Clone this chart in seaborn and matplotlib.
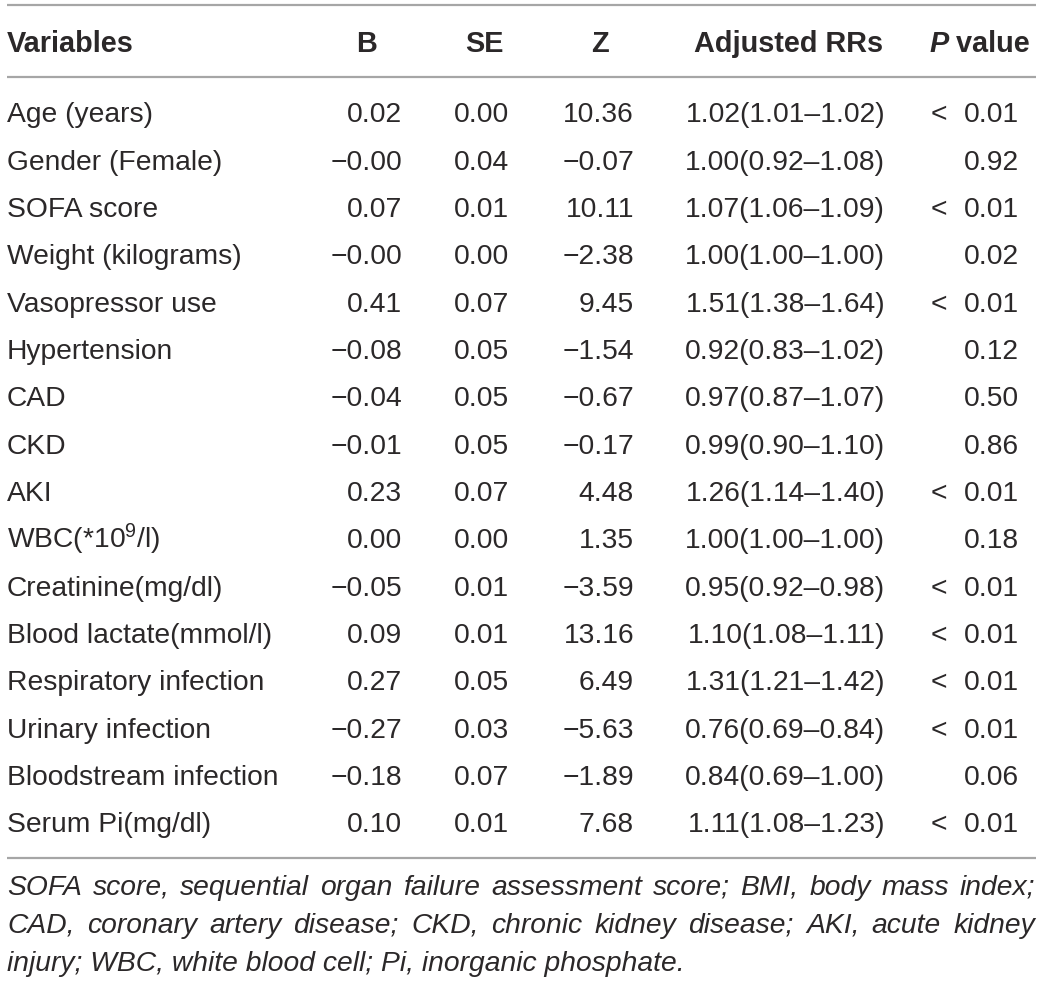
import seaborn as sns
import matplotlib.pyplot as plt

# table content
variables = ["Age (years)", "Gender (Female)", "SOFA score", "Weight (kilograms)",
             "Vasopressor use", "Hypertension", "CAD", "CKD", "AKI",
             "WBC(*10$^{9}$/l)", "Creatinine(mg/dl)", "Blood lactate(mmol/l)",
             "Respiratory infection", "Urinary infection", "Bloodstream infection",
             "Serum Pi(mg/dl)"]
b_vals = ["0.02", "\u22120.00", "0.07", "\u22120.00", "0.41", "\u22120.08", "\u22120.04",
          "\u22120.01", "0.23", "0.00", "\u22120.05", "0.09", "0.27", "\u22120.27",
          "\u22120.18", "0.10"]
se_vals = ["0.00", "0.04", "0.01", "0.00", "0.07", "0.05", "0.05", "0.05", "0.07",
           "0.00", "0.01", "0.01", "0.05", "0.03", "0.07", "0.01"]
z_vals = ["10.36", "\u22120.07", "10.11", "\u22122.38", "9.45", "\u22121.54", "\u22120.67",
          "\u22120.17", "4.48", "1.35", "\u22123.59", "13.16", "6.49", "\u22125.63",
          "\u22121.89", "7.68"]
rr_vals = ["1.02(1.01\u20131.02)", "1.00(0.92\u20131.08)", "1.07(1.06\u20131.09)",
           "1.00(1.00\u20131.00)", "1.51(1.38\u20131.64)", "0.92(0.83\u20131.02)",
           "0.97(0.87\u20131.07)", "0.99(0.90\u20131.10)", "1.26(1.14\u20131.40)",
           "1.00(1.00\u20131.00)", "0.95(0.92\u20130.98)", "1.10(1.08\u20131.11)",
           "1.31(1.21\u20131.42)", "0.76(0.69\u20130.84)", "0.84(0.69\u20131.00)",
           "1.11(1.08\u20131.23)"]
p_vals = ["< 0.01", "0.92", "< 0.01", "0.02", "< 0.01", "0.12", "0.50", "0.86",
          "< 0.01", "0.18", "< 0.01", "< 0.01", "< 0.01", "< 0.01", "0.06", "< 0.01"]
headers = ["Variables", "B", "SE", "Z", "Adjusted RRs"]
footnote = ["SOFA score, sequential organ failure assessment score; BMI, body mass index;",
            "CAD, coronary artery disease; CKD, chronic kidney disease; AKI, acute kidney",
            "injury; WBC, white blood cell; Pi, inorganic phosphate."]

sns.set_theme(style="white")
plt.rcParams['font.family'] = ['Liberation Sans', 'DejaVu Sans']
plt.rcParams['mathtext.fontset'] = 'custom'
plt.rcParams['mathtext.rm'] = 'Liberation Sans'
plt.rcParams['mathtext.it'] = 'Liberation Sans:italic'

W, H = 1043, 981
fig = plt.figure(figsize=(W / 100, H / 100), dpi=100)
ax = fig.add_axes([0, 0, 1, 1])
ax.set_xlim(0, W)
ax.set_ylim(H, 0)
ax.axis('off')

fs = 20.3     # body size
hfs = 20.8    # header size
txt = '#2b2829'
rule = '#a6a6a6'

# rules
for y in [5, 77, 858]:
    ax.plot([7, 1036], [y, y], color=rule, lw=1.6, solid_capstyle='butt')

# header
hy = 52
ax.text(7, hy, headers[0], fontsize=hfs, fontweight='bold', color=txt, ha='left', va='baseline')
ax.text(367, hy, headers[1], fontsize=hfs, fontweight='bold', color=txt, ha='center', va='baseline')
ax.text(484, hy, headers[2], fontsize=hfs, fontweight='bold', color=txt, ha='center', va='baseline')
ax.text(600, hy, headers[3], fontsize=hfs, fontweight='bold', color=txt, ha='center', va='baseline')
ax.text(788, hy, headers[4], fontsize=hfs, fontweight='bold', color=txt, ha='center', va='baseline')
val = ax.text(1030, hy, " value", fontsize=hfs, fontweight='bold', color=txt, ha='right', va='baseline')
fig.canvas.draw()
r = fig.canvas.get_renderer()
vb = val.get_window_extent(r)
ax.text(vb.x0, hy, "P", fontsize=hfs, fontweight='bold', fontstyle='italic', color=txt,
        ha='right', va='baseline')

# body rows
y0, step = 122.5, 47.33
for i in range(len(variables)):
    y = y0 + i * step
    ax.text(7, y, variables[i], fontsize=fs, color=txt, ha='left', va='baseline')
    ax.text(402, y, b_vals[i], fontsize=fs, color=txt, ha='right', va='baseline')
    ax.text(509, y, se_vals[i], fontsize=fs, color=txt, ha='right', va='baseline')
    ax.text(634, y, z_vals[i], fontsize=fs, color=txt, ha='right', va='baseline')
    ax.text(885, y, rr_vals[i], fontsize=fs, color=txt, ha='right', va='baseline')
    p = p_vals[i]
    if p.startswith("<"):
        ax.text(931, y, "<", fontsize=fs, color=txt, ha='left', va='baseline')
        p = p[1:].strip()
    ax.text(1019, y, p, fontsize=fs, color=txt, ha='right', va='baseline')

# footnote, justified
fy = [895, 933, 971]
left, right = 7, 1035
for k, line in enumerate(footnote):
    words = line.split()
    if k == len(footnote) - 1:
        ax.text(left, fy[k], line, fontsize=fs, fontstyle='italic', color=txt,
                ha='left', va='baseline')
        continue
    items = [ax.text(0, fy[k], w, fontsize=fs, fontstyle='italic', color=txt,
                     ha='left', va='baseline') for w in words]
    widths = [t.get_window_extent(r).width for t in items]
    gap = (right - left - sum(widths)) / (len(words) - 1)
    x = left
    for t, w in zip(items, widths):
        t.set_x(x)
        x += w + gap

fig.savefig("out.png", dpi=100, facecolor='white')
